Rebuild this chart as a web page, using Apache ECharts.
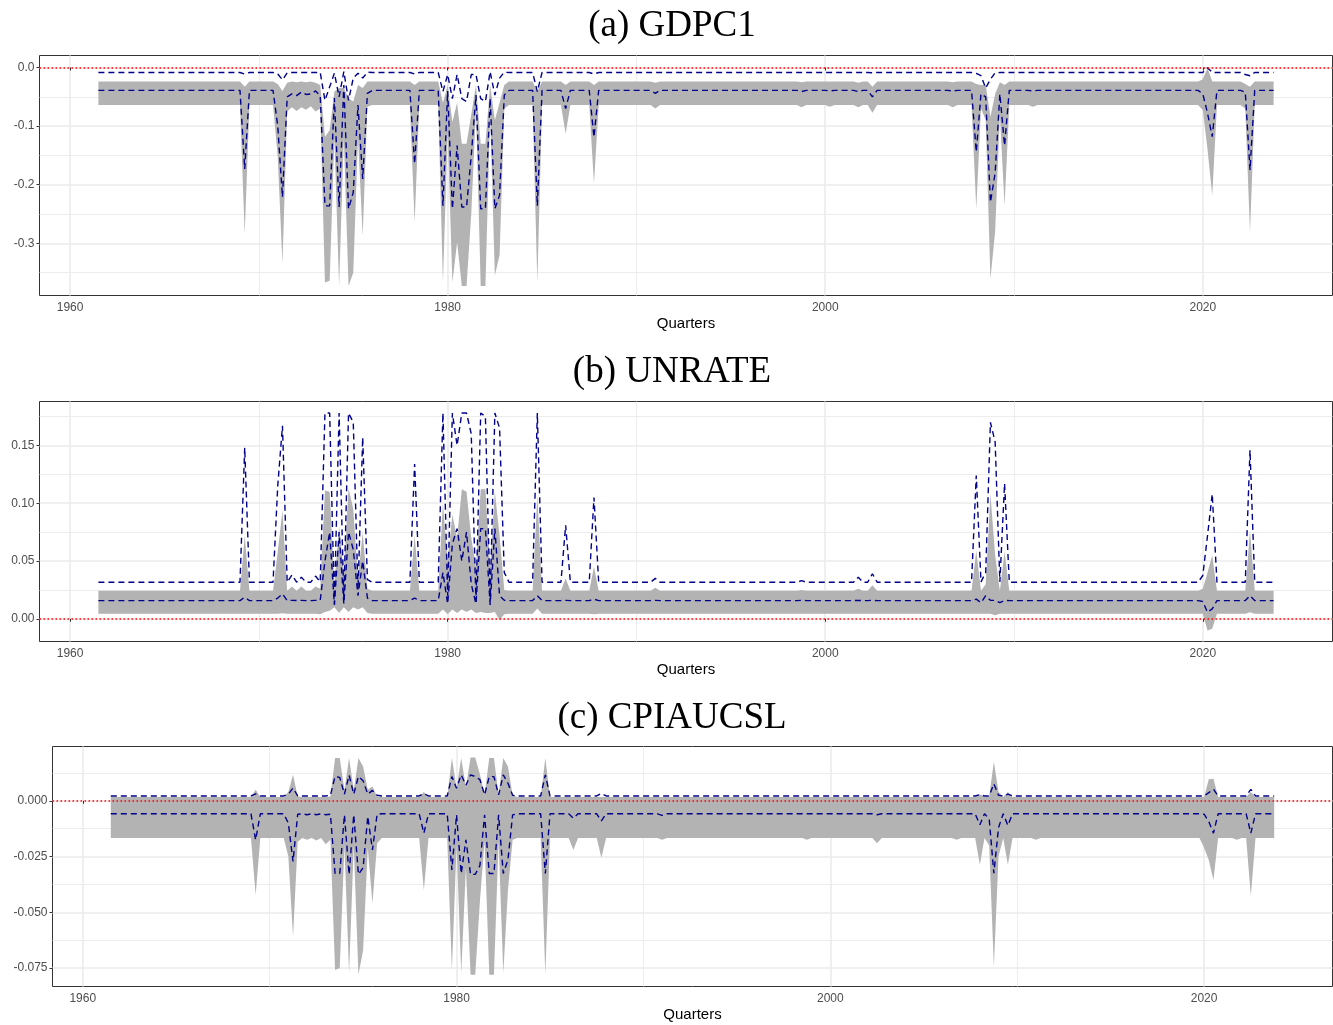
<!DOCTYPE html>
<html>
<head>
<meta charset="utf-8">
<title>GDPC1 / UNRATE / CPIAUCSL</title>
<script src="https://cdn.jsdelivr.net/npm/echarts@6/dist/echarts.min.js"></script>
<style>
  html, body { margin: 0; padding: 0; background: #fff; }
  #chart { width: 1333px; height: 1025px; }
</style>
</head>
<body>
<div id="chart"></div>
<script>
// x axis: quarters 1961 Q3 .. 2023 Q4, as decimal years
const firstQuarter = 1961.5;
const quarterCount = 250;

const panelTitles = ['(a) GDPC1', '(b) UNRATE', '(c) CPIAUCSL'];
const xTicks = [1960, 1980, 2000, 2020];
const gdpTicks = [-0.3, -0.2, -0.1, 0];
const unrateTicks = [0, 0.05, 0.1, 0.15];
const cpiTicks = [-0.075, -0.05, -0.025, 0];
const yTickStep = [0.1, 0.05, 0.025];
const yTickDigits = [1, 2, 3];
const yLimits = [[-0.389, 0.0205], [-0.0196, 0.188], [-0.0833, 0.0244]];
const xLimits = [1958.38, 2026.87];

// flat level: [ribbon low, ribbon high, lower dashed, upper dashed]
const gdpLevel = [-0.064, -0.024, -0.039, -0.0085];
// quarters that leave the flat level: [quarter, ribbon low, ribbon high, lower dashed, upper dashed]
const gdpMoves = [
    [1969.25, -0.284, -0.033, -0.173, -0.011],
    [1971.0, -0.153, -0.028, -0.10, -0.011],
    [1971.25, -0.335, -0.04, -0.221, -0.021],
    [1971.5, -0.075, -0.026, -0.05, -0.009],
    [1971.75, -0.068, -0.024, -0.045, -0.0085],
    [1972.0, -0.074, -0.025, -0.048, -0.0085],
    [1972.25, -0.068, -0.024, -0.042, -0.0085],
    [1972.5, -0.072, -0.025, -0.046, -0.0085],
    [1972.75, -0.066, -0.024, -0.045, -0.0085],
    [1973.0, -0.075, -0.026, -0.04, -0.0085],
    [1973.25, -0.07, -0.03, -0.048, -0.0085],
    [1973.5, -0.367, -0.118, -0.236, -0.056],
    [1973.75, -0.364, -0.107, -0.236, -0.033],
    [1974.0, -0.12, -0.041, -0.052, -0.0096],
    [1974.25, -0.373, -0.035, -0.238, -0.05],
    [1974.5, -0.12, -0.035, -0.03, -0.007],
    [1974.75, -0.373, -0.053, -0.241, -0.056],
    [1975.0, -0.35, -0.058, -0.213, -0.018],
    [1975.25, -0.12, -0.03, -0.064, -0.0096],
    [1975.5, -0.287, -0.035, -0.19, -0.018],
    [1975.75, -0.067, -0.024, -0.044, -0.008],
    [1978.25, -0.264, -0.03, -0.164, -0.011],
    [1979.75, -0.367, -0.06, -0.236, -0.041],
    [1980.0, -0.11, -0.03, -0.04, -0.012],
    [1980.25, -0.367, -0.093, -0.241, -0.053],
    [1980.5, -0.298, -0.06, -0.133, -0.012],
    [1980.75, -0.373, -0.13, -0.238, -0.053],
    [1981.0, -0.373, -0.13, -0.238, -0.058],
    [1981.25, -0.25, -0.08, -0.15, -0.012],
    [1981.5, -0.07, -0.03, -0.047, -0.012],
    [1981.75, -0.373, -0.13, -0.241, -0.053],
    [1982.0, -0.373, -0.13, -0.241, -0.058],
    [1982.25, -0.08, -0.03, -0.053, -0.007],
    [1982.5, -0.355, -0.09, -0.241, -0.047],
    [1982.75, -0.32, -0.06, -0.218, -0.018],
    [1983.0, -0.07, -0.03, -0.047, -0.008],
    [1984.75, -0.367, -0.041, -0.236, -0.041],
    [1986.25, -0.113, -0.03, -0.07, -0.0085],
    [1987.75, -0.198, -0.03, -0.119, -0.011],
    [1991.0, -0.07, -0.026, -0.044, -0.0085],
    [1998.75, -0.068, -0.025, -0.041, -0.0085],
    [2000.25, -0.067, -0.024, -0.04, -0.0085],
    [2001.75, -0.068, -0.026, -0.041, -0.0085],
    [2002.5, -0.077, -0.033, -0.05, -0.009],
    [2006.75, -0.068, -0.025, -0.04, -0.0085],
    [2008.0, -0.241, -0.028, -0.144, -0.01],
    [2008.25, -0.07, -0.03, -0.045, -0.014],
    [2008.5, -0.09, -0.03, -0.05, -0.035],
    [2008.75, -0.361, -0.084, -0.23, -0.02],
    [2009.0, -0.28, -0.045, -0.18, -0.009],
    [2009.25, -0.08, -0.025, -0.045, -0.0085],
    [2009.5, -0.236, -0.03, -0.133, -0.0085],
    [2011.0, -0.067, -0.024, -0.04, -0.0085],
    [2020.0, -0.073, -0.02, -0.045, -0.0085],
    [2020.25, -0.14, -0.001, -0.078, -0.0005],
    [2020.5, -0.218, -0.024, -0.118, -0.0085],
    [2022.25, -0.07, -0.028, -0.042, -0.012],
    [2022.5, -0.281, -0.033, -0.175, -0.014]
];

const unrateLevel = [0.0043, 0.0244, 0.0158, 0.0317];
const unrateMoves = [
    [1969.25, 0.0043, 0.072, 0.0187, 0.148],
    [1971.0, 0.0043, 0.058, 0.018, 0.115],
    [1971.25, 0.0048, 0.094, 0.0216, 0.167],
    [1971.75, 0.0043, 0.028, 0.016, 0.038],
    [1972.25, 0.0043, 0.028, 0.016, 0.036],
    [1973.0, 0.0043, 0.028, 0.016, 0.037],
    [1973.25, 0.004, 0.026, 0.016, 0.032],
    [1973.5, 0.006, 0.111, 0.05, 0.178],
    [1973.75, 0.007, 0.11, 0.075, 0.178],
    [1974.0, 0.01, 0.03, 0.012, 0.013],
    [1974.25, 0.005, 0.08, 0.075, 0.178],
    [1974.5, 0.01, 0.04, 0.013, 0.016],
    [1974.75, 0.006, 0.113, 0.075, 0.178],
    [1975.0, 0.01, 0.095, 0.06, 0.17],
    [1975.25, 0.008, 0.035, 0.02, 0.025],
    [1975.5, 0.01, 0.075, 0.05, 0.157],
    [1975.75, 0.005, 0.026, 0.018, 0.034],
    [1978.25, 0.0043, 0.072, 0.018, 0.134],
    [1979.75, 0.008, 0.1, 0.04, 0.178],
    [1980.0, 0.004, 0.05, 0.013, 0.02],
    [1980.25, 0.008, 0.09, 0.065, 0.178],
    [1980.5, 0.005, 0.07, 0.078, 0.15],
    [1980.75, 0.008, 0.112, 0.05, 0.178],
    [1981.0, 0.006, 0.11, 0.075, 0.178],
    [1981.25, 0.008, 0.07, 0.03, 0.16],
    [1981.5, 0.005, 0.045, 0.013, 0.015],
    [1981.75, 0.006, 0.112, 0.078, 0.178],
    [1982.0, 0.005, 0.112, 0.078, 0.175],
    [1982.25, 0.005, 0.045, 0.012, 0.015],
    [1982.5, 0.006, 0.11, 0.078, 0.178],
    [1982.75, -0.001, 0.072, 0.02, 0.165],
    [1983.0, 0.004, 0.025, 0.016, 0.04],
    [1984.75, 0.009, 0.107, 0.02, 0.178],
    [1986.25, 0.0043, 0.035, 0.016, 0.081],
    [1987.75, 0.004, 0.045, 0.017, 0.105],
    [1991.0, 0.0043, 0.027, 0.016, 0.035],
    [1998.75, 0.0043, 0.025, 0.016, 0.033],
    [2001.75, 0.0043, 0.026, 0.016, 0.036],
    [2002.5, 0.0043, 0.029, 0.016, 0.039],
    [2008.0, 0.0043, 0.059, 0.017, 0.124],
    [2008.25, 0.0043, 0.0244, 0.014, 0.032],
    [2008.5, 0.0043, 0.03, 0.02, 0.04],
    [2008.75, 0.0043, 0.108, 0.016, 0.17],
    [2009.0, 0.003, 0.055, 0.016, 0.153],
    [2009.25, 0.0043, 0.0244, 0.014, 0.032],
    [2009.5, 0.0043, 0.058, 0.016, 0.117],
    [2020.0, 0.0043, 0.026, 0.015, 0.0375],
    [2020.25, -0.0101, 0.04, 0.0057, 0.072],
    [2020.5, -0.0086, 0.055, 0.0086, 0.108],
    [2022.5, 0.0057, 0.076, 0.02, 0.146]
];

const cpiLevel = [-0.0167, 0.0017, -0.0058, 0.0022];
const cpiMoves = [
    [1969.25, -0.0422, 0.005, -0.0175, 0.0031],
    [1971.0, -0.025, 0.004, -0.01, 0.003],
    [1971.25, -0.0609, 0.0117, -0.0272, 0.0058],
    [1971.5, -0.0183, 0.002, -0.006, 0.0022],
    [1972.0, -0.0175, 0.0017, -0.0062, 0.0022],
    [1972.5, -0.0178, 0.0017, -0.0062, 0.0022],
    [1973.0, -0.0195, 0.0017, -0.0062, 0.0022],
    [1973.25, -0.0175, 0.002, -0.006, 0.0025],
    [1973.5, -0.0759, 0.0192, -0.0326, 0.011],
    [1973.75, -0.075, 0.0192, -0.0326, 0.0105],
    [1974.0, -0.02, 0.0049, -0.0063, 0.003],
    [1974.25, -0.0773, 0.0192, -0.033, 0.0115],
    [1974.5, -0.02, 0.0049, -0.0063, 0.003],
    [1974.75, -0.078, 0.0192, -0.033, 0.011],
    [1975.0, -0.067, 0.0154, -0.03, 0.009],
    [1975.25, -0.021, 0.005, -0.007, 0.003],
    [1975.5, -0.046, 0.0065, -0.022, 0.0047],
    [1975.75, -0.019, 0.002, -0.006, 0.0025],
    [1978.25, -0.04, 0.004, -0.0145, 0.0033],
    [1979.75, -0.0759, 0.0192, -0.031, 0.0109],
    [1980.0, -0.02, 0.0057, -0.0063, 0.0057],
    [1980.25, -0.0773, 0.0192, -0.0326, 0.0117],
    [1980.5, -0.03, 0.006, -0.0175, 0.007],
    [1980.75, -0.078, 0.0195, -0.033, 0.0117],
    [1981.0, -0.078, 0.0195, -0.033, 0.0109],
    [1981.25, -0.045, 0.012, -0.029, 0.0095],
    [1981.5, -0.018, 0.0027, -0.0063, 0.0027],
    [1981.75, -0.078, 0.0192, -0.0326, 0.0109],
    [1982.0, -0.078, 0.0192, -0.0326, 0.0109],
    [1982.25, -0.018, 0.0027, -0.0063, 0.0027],
    [1982.5, -0.0773, 0.0192, -0.0326, 0.0117],
    [1982.75, -0.04, 0.0154, -0.0265, 0.0079],
    [1983.0, -0.0175, 0.0025, -0.0063, 0.0025],
    [1984.75, -0.078, 0.0192, -0.0326, 0.0117],
    [1986.25, -0.022, 0.0017, -0.0078, 0.0022],
    [1987.75, -0.0255, 0.0017, -0.009, 0.0034],
    [1991.0, -0.0175, 0.0017, -0.0065, 0.0022],
    [1998.75, -0.0175, 0.0017, -0.0058, 0.0022],
    [2002.5, -0.019, 0.0017, -0.0062, 0.0022],
    [2006.75, -0.0175, 0.0017, -0.0058, 0.0022],
    [2008.0, -0.0287, 0.003, -0.0107, 0.0028],
    [2008.5, -0.02, 0.002, -0.008, 0.0022],
    [2008.75, -0.0744, 0.0176, -0.0325, 0.0077],
    [2009.0, -0.025, 0.004, -0.012, 0.0025],
    [2009.5, -0.0287, 0.004, -0.011, 0.003],
    [2011.0, -0.0175, 0.0017, -0.0058, 0.0022],
    [2020.0, -0.021, 0.0017, -0.006, 0.0022],
    [2020.25, -0.0265, 0.0097, -0.0093, 0.0037],
    [2020.5, -0.0355, 0.0099, -0.0145, 0.0052],
    [2021.75, -0.0175, 0.0017, -0.0058, 0.0022],
    [2022.5, -0.0427, 0.004, -0.0145, 0.0052]
];

const panels = [[gdpLevel, gdpMoves], [unrateLevel, unrateMoves], [cpiLevel, cpiMoves]];
const yTicks = [gdpTicks, unrateTicks, cpiTicks];

const sansFont = '"Liberation Sans", Arial, sans-serif';
const gridBoxes = [
    { left: 39.5, top: 55.5, width: 1293, height: 240 },
    { left: 39.5, top: 401.5, width: 1293, height: 240 },
    { left: 52.5, top: 746.5, width: 1280, height: 240 }
];
const titleY = [26, 372, 718];

const quarters = [];
for (let i = 0; i < quarterCount; i++) {
    quarters.push(firstQuarter + i * 0.25);
}

// expand the level + moves of one panel to one row per quarter
function panelRows(level, moves) {
    const byQuarter = {};
    moves.forEach(m => { byQuarter[m[0].toFixed(2)] = m.slice(1); });
    return quarters.map(q => [q].concat(byQuarter[q.toFixed(2)] || level));
}

function isStep(v, step) {
    const k = v / step;
    return Math.abs(k - Math.round(k)) < 1e-6;
}

const gridLine = { color: '#ebebeb', width: 1.6 };
const minorGridLine = { color: '#ebebeb', width: 0.9 };

const grids = [], xAxes = [], yAxes = [], series = [];

panels.forEach(([level, moves], i) => {
    const rows = panelRows(level, moves);
    grids.push(Object.assign({
        show: true,
        borderColor: '#333333',
        borderWidth: 1,
        backgroundColor: 'transparent',
        containLabel: false,
        outerBoundsMode: 'none'
    }, gridBoxes[i]));

    xAxes.push({
        gridIndex: i,
        type: 'value',
        min: xLimits[0],
        max: xLimits[1],
        minInterval: 20,
        maxInterval: 20,
        name: 'Quarters',
        nameLocation: 'middle',
        nameGap: 21,
        nameTextStyle: { fontFamily: sansFont, fontSize: 15, color: '#000' },
        axisLine: { show: false },
        axisTick: { show: true, length: 3, customValues: xTicks, lineStyle: { color: '#333333', width: 1 } },
        axisLabel: {
            fontFamily: sansFont, fontSize: 12, color: '#4d4d4d', margin: 6,
            customValues: xTicks,
            formatter: v => (isStep(v, 20) ? String(Math.round(v)) : '')
        },
        splitLine: { show: true, lineStyle: gridLine },
        minorTick: { show: false, splitNumber: 2 },
        minorSplitLine: { show: true, lineStyle: minorGridLine }
    });

    yAxes.push({
        gridIndex: i,
        type: 'value',
        min: yLimits[i][0],
        max: yLimits[i][1],
        minInterval: yTickStep[i],
        maxInterval: yTickStep[i],
        axisLine: { show: false },
        axisTick: { show: true, length: 3, customValues: yTicks[i], lineStyle: { color: '#333333', width: 1 } },
        axisLabel: {
            fontFamily: sansFont, fontSize: 12, color: '#4d4d4d', margin: 5,
            customValues: yTicks[i],
            formatter: v => (isStep(v, yTickStep[i]) ? v.toFixed(yTickDigits[i]) : '')
        },
        splitLine: { show: true, lineStyle: gridLine },
        minorTick: { show: false, splitNumber: 2 },
        minorSplitLine: { show: true, lineStyle: minorGridLine }
    });

    // grey ribbon between the low and high edges
    series.push({
        type: 'custom',
        xAxisIndex: i,
        yAxisIndex: i,
        silent: true,
        z: 2,
        data: rows.map(r => [r[0], r[1], r[2]]),
        encode: { x: 0, y: [1, 2] },
        renderItem: function (params, api) {
            if (params.dataIndex !== 0) return null;
            const upper = rows.map(r => api.coord([r[0], r[2]]));
            const lower = rows.map(r => api.coord([r[0], r[1]])).reverse();
            return {
                type: 'polygon',
                shape: { points: upper.concat(lower) },
                style: { fill: '#b3b3b3', stroke: null }
            };
        }
    });

    [3, 4].forEach(col => {
        const line = {
            type: 'line',
            xAxisIndex: i,
            yAxisIndex: i,
            data: rows.map(r => [r[0], r[col]]),
            showSymbol: false,
            symbol: 'none',
            silent: true,
            z: 3,
            lineStyle: { color: '#00008b', width: 1.4, type: [6, 4] }
        };
        if (col === 4) {
            line.markLine = {
                silent: true,
                symbol: 'none',
                label: { show: false },
                animation: false,
                z: 5,
                lineStyle: { color: '#ff0000', width: 1.6, type: [1.6, 2.4] },
                data: [{ yAxis: 0 }]
            };
        }
        series.push(line);
    });
});

const chart = echarts.init(document.getElementById('chart'), null, { renderer: 'canvas' });
chart.setOption({
    animation: false,
    backgroundColor: '#ffffff',
    grid: grids,
    xAxis: xAxes,
    yAxis: yAxes,
    series: series,
    graphic: panelTitles.map((t, i) => ({
        type: 'text',
        x: 672,
        y: titleY[i],
        silent: true,
        style: {
            text: t,
            fontFamily: '"Liberation Serif", "Times New Roman", serif',
            fontSize: 37,
            fill: '#000',
            align: 'center',
            verticalAlign: 'middle'
        }
    }))
});
</script>
</body>
</html>
